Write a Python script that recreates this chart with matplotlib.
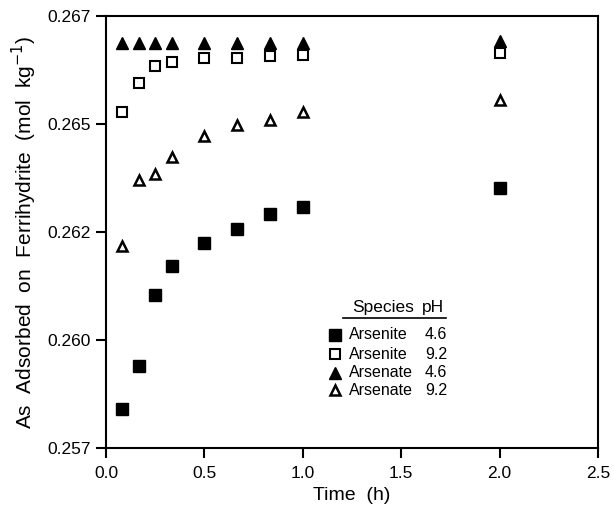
import matplotlib
matplotlib.use("Agg")
import matplotlib.pyplot as plt

plt.rcParams["font.family"] = ["Liberation Sans", "DejaVu Sans"]

# time in hours (5, 10, 15, 20, 30, 40, 50, 60, 120 min)
time_h = [0.083, 0.167, 0.25, 0.333, 0.5, 0.667, 0.833, 1.0, 2.0]

arsenite_46 = [0.25840, 0.25940, 0.26104, 0.26171, 0.26225, 0.26256, 0.26291, 0.26309, 0.26351]
arsenite_92 = [0.26528, 0.26596, 0.26634, 0.26644, 0.26653, 0.26653, 0.26657, 0.26659, 0.26664]
arsenate_46 = [0.26688, 0.26688, 0.26688, 0.26688, 0.26688, 0.26688, 0.26688, 0.26688, 0.26691]
arsenate_92 = [0.26218, 0.26370, 0.26384, 0.26423, 0.26472, 0.26498, 0.26509, 0.26528, 0.26556]

y_ticks = [0.2575, 0.2600, 0.2625, 0.2650, 0.2675]
y_tick_labels = ["0.257", "0.260", "0.262", "0.265", "0.267"]
x_ticks = [0.0, 0.5, 1.0, 1.5, 2.0, 2.5]

series = [
    ("Arsenite", "4.6", arsenite_46, dict(marker="s", mfc="black", mec="black", ms=8)),
    ("Arsenite", "9.2", arsenite_92, dict(marker="s", mfc="white", mec="black", ms=7, mew=1.5)),
    ("Arsenate", "4.6", arsenate_46, dict(marker="^", mfc="black", mec="black", ms=8)),
    ("Arsenate", "9.2", arsenate_92, dict(marker="^", mfc="white", mec="black", ms=7, mew=1.8)),
]


def main():
    fig = plt.figure(figsize=(6.14, 5.08), dpi=100)
    ax = fig.add_axes([0.1726, 0.118, 0.8014, 0.8505])

    for name, ph, values, style in series:
        ax.plot(time_h, values, linestyle="none", **style)

    ax.set_xlim(0, 2.5)
    ax.set_ylim(0.2575, 0.2675)
    ax.set_xticks(x_ticks)
    ax.set_xticklabels([f"{v:.1f}" for v in x_ticks])
    ax.set_yticks(y_ticks)
    ax.set_yticklabels(y_tick_labels)
    ax.tick_params(direction="out", length=7, width=1.5, labelsize=12.5)
    ax.tick_params(axis="x", pad=6)
    ax.tick_params(axis="y", pad=4)
    for spine in ax.spines.values():
        spine.set_linewidth(1.5)

    ax.set_xlabel("Time  (h)", fontsize=14, labelpad=4)
    ax.set_ylabel("As  Adsorbed  on  Ferrihydrite  (mol  kg$^{-1}$)", fontsize=15, labelpad=6)

    # legend table drawn by hand
    rows_y = [0.262, 0.217, 0.174, 0.134]
    ax.text(0.500, 0.325, "Species", transform=ax.transAxes, fontsize=12.5, va="center")
    ax.text(0.642, 0.325, "pH", transform=ax.transAxes, fontsize=12.5, va="center")
    ax.plot([0.482, 0.691], [0.301, 0.301], color="black", lw=1.2, transform=ax.transAxes)
    for (name, ph, values, style), ry in zip(series, rows_y):
        ax.plot([0.465], [ry], transform=ax.transAxes, linestyle="none", clip_on=False, **style)
        ax.text(0.493, ry, name, transform=ax.transAxes, fontsize=11.5, va="center")
        ax.text(0.648, ry, ph, transform=ax.transAxes, fontsize=11.5, va="center")

    fig.savefig("out.png", dpi=100)
    plt.close(fig)


if __name__ == "__main__":
    main()
